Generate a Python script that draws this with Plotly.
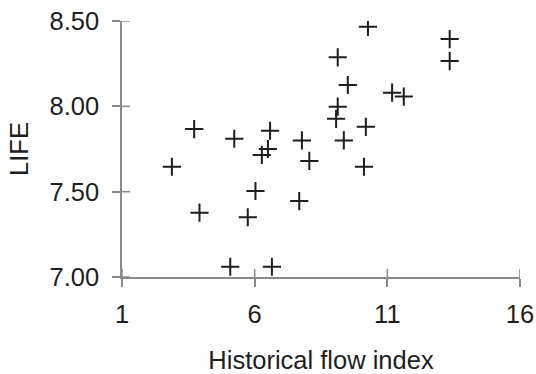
import plotly.graph_objects as go

flow_index = [2.88, 3.72, 3.92, 5.23, 5.08, 5.74, 6.03, 6.27, 6.50, 6.58, 6.65,
              7.68, 7.78, 8.06, 9.07, 9.13, 9.13, 9.36, 9.51, 10.12, 10.19,
              10.27, 11.18, 11.62, 13.35, 13.35]
life = [7.646, 7.867, 7.377, 7.81, 7.06, 7.35, 7.504, 7.715, 7.75, 7.857, 7.06,
        7.445, 7.80, 7.68, 7.927, 7.998, 8.287, 7.80, 8.125, 7.646, 7.88,
        8.466, 8.08, 8.057, 8.394, 8.265]

x_ticks = [1, 6, 11, 16]
y_ticks = [7.0, 7.5, 8.0, 8.5]
y_tick_text = ["7.00", "7.50", "8.00", "8.50"]

FONT = "Liberation Sans, Arial, sans-serif"
TXT = "#1e1e1e"
AX = "#8a8a8a"
FS = 25.5
TICKLEN = 8

fig = go.Figure()
fig.add_trace(go.Scatter(
    x=flow_index, y=life, mode="markers",
    marker=dict(symbol="cross-thin", size=13, color="#1e1e1e",
                line=dict(color="#1e1e1e", width=2)),
    showlegend=False, hoverinfo="skip",
))

axis_common = dict(showgrid=False, zeroline=False, showline=True,
                   linecolor=AX, linewidth=1.5, tickcolor=AX, tickwidth=1.5,
                   ticklen=TICKLEN, ticks="outside", automargin=False)

# inner halves of the tick marks (ticks cross the axis line)
for t in x_ticks:
    fig.add_shape(type="line", xref="x", x0=t, x1=t,
                  yref="paper", ysizemode="pixel", yanchor=0, y0=0, y1=TICKLEN,
                  line=dict(color=AX, width=1.5), layer="below")
for t in y_ticks:
    fig.add_shape(type="line", yref="y", y0=t, y1=t,
                  xref="paper", xsizemode="pixel", xanchor=0, x0=0, x1=TICKLEN,
                  line=dict(color=AX, width=1.5), layer="below")

fig.update_layout(
    width=536, height=374,
    margin=dict(l=122, r=16, t=21, b=97),
    paper_bgcolor="white", plot_bgcolor="white",
    font=dict(family=FONT, size=FS, color=TXT),
    xaxis=dict(range=[1, 16], tickvals=x_ticks,
               ticklabelstandoff=6,
               title=dict(text="Historical flow index", standoff=24,
                          font=dict(size=FS, color=TXT)),
               **axis_common),
    yaxis=dict(range=[7.0, 8.5], tickvals=y_ticks, ticktext=y_tick_text,
               ticklabelstandoff=8,
               title=dict(text="LIFE", standoff=14,
                          font=dict(size=FS, color=TXT)),
               **axis_common),
)

fig.write_html("out.html")
